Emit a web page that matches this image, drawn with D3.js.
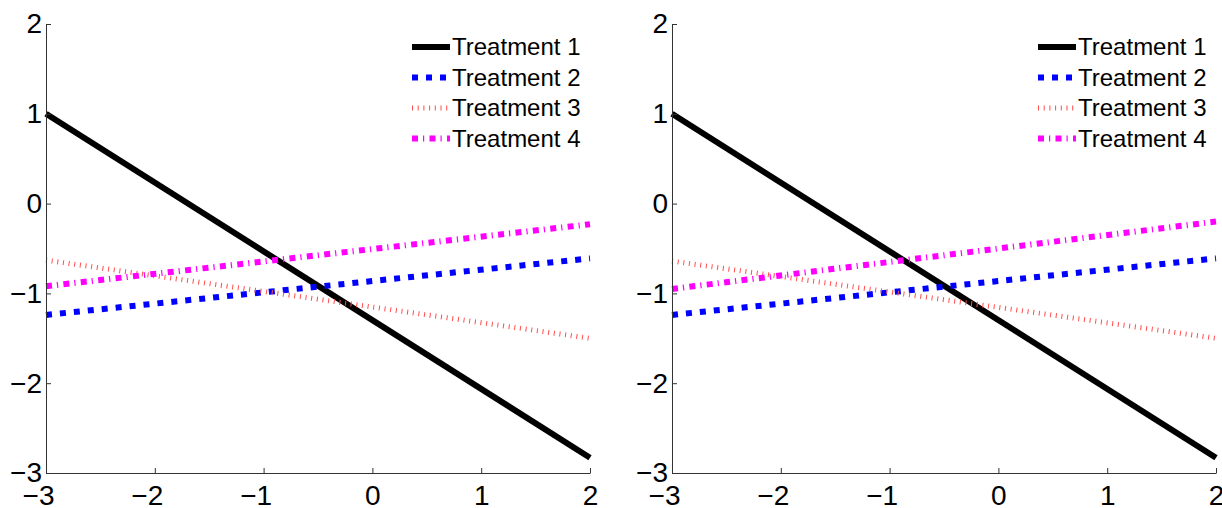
<!DOCTYPE html>
<html>
<head>
<meta charset="utf-8">
<script src="https://cdn.jsdelivr.net/npm/d3@7"></script>
<style>
  body { margin: 0; background: #fff; }
  svg { display: block; font-family: "Liberation Sans", Arial, sans-serif; }
</style>
</head>
<body>
<svg id="chart" width="1222" height="508"></svg>
<script>
// x positions of the line ends
var xEnds = [-3, 2]
var seriesNames = ["Treatment 1", "Treatment 2", "Treatment 3", "Treatment 4"]
var xTicks = [-3, -2, -1, 0, 1, 2]
var yTicks = [-3, -2, -1, 0, 1, 2]

// left panel, y at x = -3 and x = 2
var leftT1 = [1, -2.83]
var leftT2 = [-1.24, -0.61]
var leftT3 = [-0.63, -1.5]
var leftT4 = [-0.92, -0.23]

// right panel
var rightT1 = [1, -2.83]
var rightT2 = [-1.24, -0.61]
var rightT3 = [-0.64, -1.5]
var rightT4 = [-0.95, -0.2]

var styles = [
    {color: "#000000", width: 6, dash: null},
    {color: "#0000ff", width: 6, dash: "6 8"},
    {color: "#ff4d4d", width: 5, dash: "1 4.7"},
    {color: "#ff00ff", width: 6, dash: "6 5 1.2 5.3"}
]

var dimensions = {
    top: 24,
    bottom: 473
}

var svg = d3.select("#chart")

function drawPanel(left, right, values, legendX) {
    var xScale = d3.scaleLinear()
                   .domain([-3, 2])
                   .range([left, right])
    var yScale = d3.scaleLinear()
                   .domain([-3, 2])
                   .range([dimensions.bottom, dimensions.top])

    var panel = svg.append("g")

    var lineGen = d3.line()
                    .x(d => xScale(d[0]))
                    .y(d => yScale(d[1]))

    values.forEach((v, i) => {
        var pts = xEnds.map((x, j) => [x, v[j]])
        panel.append("path")
             .datum(pts)
             .attr("d", lineGen)
             .attr("fill", "none")
             .attr("stroke", styles[i].color)
             .attr("stroke-width", styles[i].width)
             .attr("stroke-dasharray", styles[i].dash)
    })

    var xAxis = panel.append("g")
                     .attr("transform", `translate(0, ${dimensions.bottom})`)
                     .call(d3.axisBottom(xScale).tickValues(xTicks)
                             .tickFormat(d3.format("d"))
                             .tickSizeInner(-5).tickSizeOuter(0).tickPadding(12))
    var yAxis = panel.append("g")
                     .attr("transform", `translate(${left}, 0)`)
                     .call(d3.axisLeft(yScale).tickValues(yTicks)
                             .tickFormat(d3.format("d"))
                             .tickSizeInner(-5).tickSizeOuter(0).tickPadding(4))

    panel.selectAll(".domain, .tick line").attr("stroke", "#333")
    panel.selectAll(".tick text")
         .attr("fill", "#000")
         .style("font-size", "28px")
    // minus sign hangs to the left of the centred digit
    xAxis.selectAll(".tick text")
         .attr("x", d => d < 0 ? -8 : 0)
         .attr("dy", "0.72em")

    // legend
    var legend = panel.append("g")
                      .attr("transform", `translate(${legendX}, 47)`)
    seriesNames.forEach((name, i) => {
        var y = i * 30.5
        legend.append("line")
              .attr("x1", 0).attr("x2", 38)
              .attr("y1", y).attr("y2", y)
              .attr("stroke", styles[i].color)
              .attr("stroke-width", styles[i].width)
              .attr("stroke-dasharray", styles[i].dash)
        legend.append("text")
              .attr("x", 40)
              .attr("y", y)
              .attr("dy", "0.35em")
              .style("font-size", "24px")
              .text(name)
    })
}

drawPanel(46, 590, [leftT1, leftT2, leftT3, leftT4], 412)
drawPanel(672, 1216, [rightT1, rightT2, rightT3, rightT4], 1038)
</script>
</body>
</html>
